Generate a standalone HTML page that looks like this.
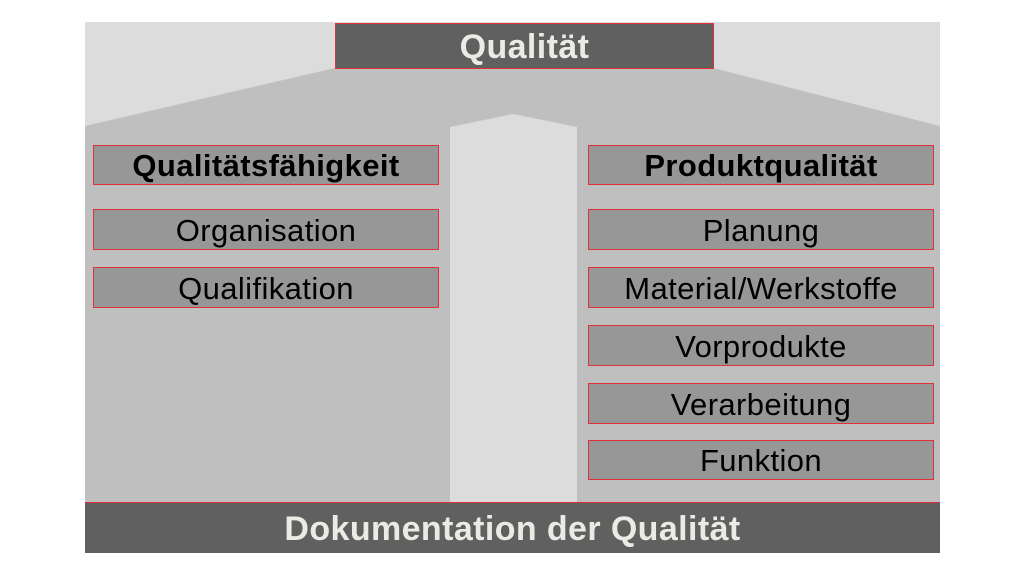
<!DOCTYPE html>
<html><head><style>
body{margin:0;width:1024px;height:576px;background:#fff;position:relative;overflow:hidden;font-family:"Liberation Sans",sans-serif}
.b{position:absolute;box-sizing:border-box;background:#979797;border:1.5px solid #e0303a;display:flex;align-items:center;justify-content:center;font-size:31px;letter-spacing:0.4px;color:#000;padding-top:2px}
.l{left:93px;width:346px}.r{left:588px;width:346px}
</style></head><body>
<svg style="position:absolute;left:0;top:0" width="1024" height="576">
<rect x="85" y="22" width="855" height="531" fill="#dcdcdc"/>
<polygon points="85,126 335,68 713,68 940,126 940,503 85,503" fill="#bfbfbf"/>
<polygon points="450,127 513,114 577,127 577,503 450,503" fill="#dcdcdc"/>
</svg>
<div class="b" style="left:335px;top:23px;width:379px;height:46px;background:#606060;color:#ebebe5;font-weight:bold;font-size:34px">Qualität</div>
<div class="b l" style="top:145px;height:40px;font-weight:bold">Qualitätsfähigkeit</div>
<div class="b l" style="top:209px;height:41px">Organisation</div>
<div class="b l" style="top:267px;height:41px">Qualifikation</div>
<div class="b r" style="top:145px;height:40px;font-weight:bold">Produktqualität</div>
<div class="b r" style="top:209px;height:41px">Planung</div>
<div class="b r" style="top:267px;height:41px">Material/Werkstoffe</div>
<div class="b r" style="top:325px;height:41px">Vorprodukte</div>
<div class="b r" style="top:383px;height:41px">Verarbeitung</div>
<div class="b r" style="top:440px;height:40px">Funktion</div>
<div class="b" style="left:85px;top:502px;width:855px;height:51px;background:#606060;color:#ebebe5;font-weight:bold;font-size:34px;border:none;border-top:1.5px solid #e0303a">Dokumentation der Qualität</div>
</body></html>
